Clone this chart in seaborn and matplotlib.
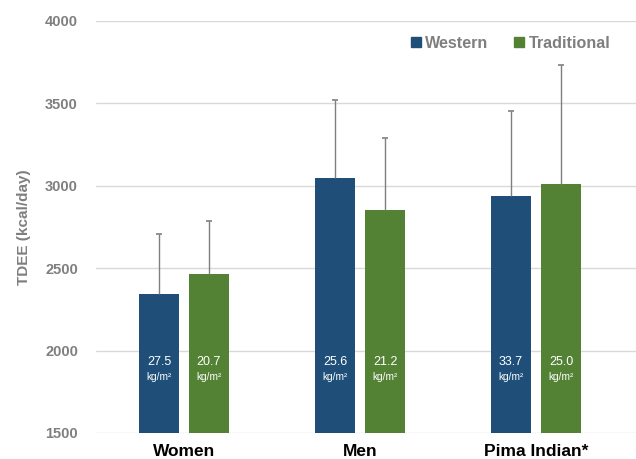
import seaborn as sns
import matplotlib.pyplot as plt
import pandas as pd
from matplotlib.lines import Line2D

groups = ['Women', 'Men', 'Pima Indian*']
diets = ['Western', 'Traditional']
western = [2345, 3050, 2937]
traditional = [2467, 2852, 3008]
western_sd = [362, 468, 515]
traditional_sd = [317, 436, 723]
western_bmi = ['27.5', '25.6', '33.7']
traditional_bmi = ['20.7', '21.2', '25.0']

colors = ['#1F4E79', '#548235']
grey = '#7F7F7F'

sns.set_theme(style='white')
plt.rcParams['font.family'] = ['Liberation Sans', 'DejaVu Sans']

df = pd.DataFrame({
    'group': groups * 2,
    'diet': ['Western'] * 3 + ['Traditional'] * 3,
    'tdee': western + traditional,
})

fig = plt.figure(figsize=(6.36, 4.59), dpi=100)
ax = fig.add_axes([96 / 636, 26 / 459, 540 / 636, 412 / 459])

sns.barplot(data=df, x='group', y='tdee', hue='diet', order=groups,
            hue_order=diets, palette=colors, saturation=1, width=0.568,
            gap=0.2, errorbar=None, legend=False, linewidth=0, ax=ax)

sds = [western_sd, traditional_sd]
bmis = [western_bmi, traditional_bmi]
for cont, sd, bmi in zip(ax.containers, sds, bmis):
    for bar, s, b in zip(cont, sd, bmi):
        cx = bar.get_x() + bar.get_width() / 2
        h = bar.get_height()
        # upper error only, cap at the top
        ax.vlines(cx, h, h + s, color=grey, lw=1, zorder=1)
        ax.plot(cx, h + s, marker='_', color=grey, markersize=4,
                markeredgewidth=1.2, zorder=1)
        ax.text(cx, 1928, b, color='white', fontsize=9,
                ha='center', va='center')
        ax.text(cx, 1840, 'kg/m²', color='white', fontsize=7.3,
                ha='center', va='center')

ax.set_ylim(1500, 4000)
ax.set_xlim(-0.5, 2.568)
ax.set_yticks([1500, 2000, 2500, 3000, 3500, 4000])
ax.yaxis.grid(True, color='#D9D9D9', lw=1)
ax.set_axisbelow(True)
for sp in ax.spines.values():
    sp.set_visible(False)
ax.tick_params(axis='y', length=0, pad=13, labelsize=10.5, labelcolor=grey)
ax.tick_params(axis='x', length=0, pad=8, labelsize=12.5, labelcolor='black')
for t in ax.get_yticklabels():
    t.set_fontweight('bold')
for t in ax.get_xticklabels():
    t.set_fontweight('bold')
ax.set_xlabel('')
ax.set_ylabel('TDEE (kcal/day)', fontsize=11, fontweight='bold',
              color=grey, labelpad=10)

handles = [Line2D([], [], marker='s', ls='', color=c, markersize=7)
           for c in colors]
leg = ax.legend(handles, diets, loc='upper right', frameon=False,
                ncol=2, bbox_to_anchor=(0.98, 1.0), handletextpad=0.1,
                columnspacing=1.4, handlelength=1.0,
                prop={'weight': 'bold', 'size': 11.6})
for t in leg.get_texts():
    t.set_color(grey)

fig.savefig('out.png', dpi=100)
